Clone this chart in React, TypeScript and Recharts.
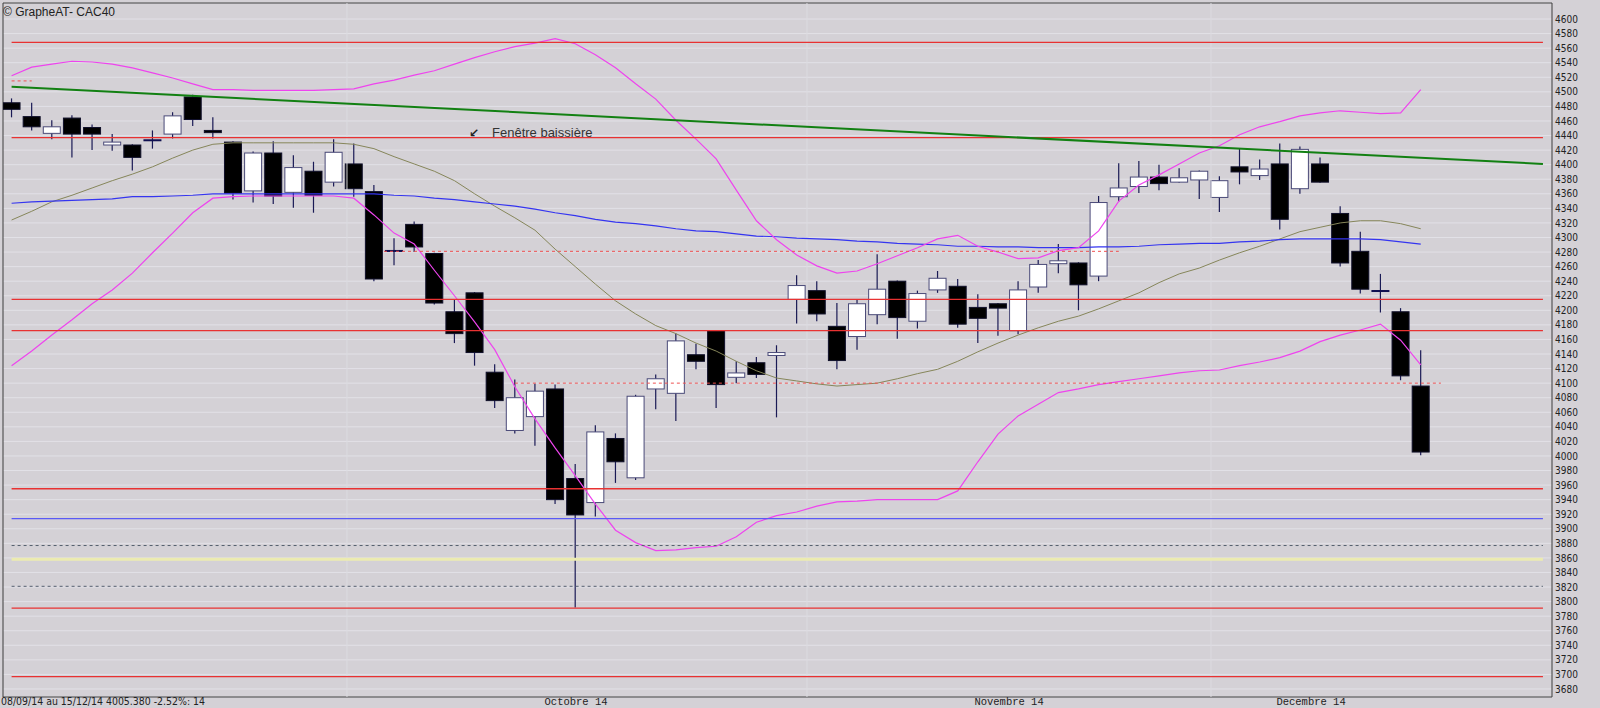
import React from 'react';
import {
  ComposedChart,
  Bar,
  Line,
  XAxis,
  YAxis,
  CartesianGrid,
  ReferenceLine,
  ReferenceArea,
} from 'recharts';

// ---- Candles (08/09/14 .. 15/12/14, CAC40) ----
const opens = [
  4485, 4466, 4443, 4464, 4451, 4427, 4427, 4433, 4442, 4493, 4447, 4431, 4364, 4416, 4362, 4391, 4376, 4401,
  4363, 4282, 4318, 4278, 4198, 4224, 4115, 4035, 4054, 4092, 3969, 3936, 4024, 3970, 4092, 4086, 4139, 4172,
  4108, 4128, 4138, 4215, 4227, 4178, 4164, 4194, 4240, 4185, 4228, 4233, 4204, 4209, 4172, 4232, 4264, 4265,
  4247, 4356, 4370, 4383, 4376, 4379, 4355, 4397, 4385, 4401, 4367, 4401, 4333, 4281, 4227, 4198, 4096,
];
const highs = [
  4491, 4485, 4461, 4468, 4455, 4442, 4428, 4447, 4472, 4496, 4465, 4432, 4418, 4432, 4413, 4404, 4435, 4429,
  4372, 4299, 4322, 4279, 4215, 4225, 4126, 4105, 4099, 4098, 3989, 4042, 4031, 4084, 4112, 4168, 4154, 4173,
  4130, 4136, 4152, 4248, 4240, 4210, 4215, 4277, 4241, 4227, 4254, 4243, 4222, 4210, 4240, 4269, 4291, 4266,
  4357, 4402, 4405, 4400, 4395, 4392, 4384, 4422, 4407, 4429, 4425, 4410, 4343, 4308, 4250, 4203, 4145,
];
const lows = [
  4465, 4447, 4435, 4410, 4420, 4419, 4392, 4422, 4436, 4453, 4436, 4352, 4348, 4346, 4341, 4334, 4370, 4356,
  4240, 4262, 4280, 4208, 4155, 4124, 4066, 4031, 4014, 3934, 3792, 3917, 3963, 3967, 4064, 4048, 4119, 4066,
  4100, 4107, 4053, 4182, 4185, 4119, 4146, 4181, 4161, 4175, 4224, 4176, 4155, 4165, 4167, 4224, 4251, 4200,
  4240, 4349, 4361, 4365, 4375, 4353, 4335, 4373, 4379, 4311, 4360, 4375, 4260, 4223, 4197, 4104, 4001,
];
const closes = [
  4476, 4452, 4452, 4442, 4442, 4431, 4410, 4434, 4467, 4462, 4444, 4361, 4416, 4357, 4396, 4358, 4417, 4367,
  4243, 4281, 4287, 4210, 4168, 4142, 4076, 4080, 4089, 3940, 3919, 4033, 3992, 4082, 4106, 4158, 4130, 4098,
  4114, 4112, 4142, 4234, 4195, 4131, 4209, 4229, 4190, 4223, 4244, 4181, 4189, 4203, 4228, 4263, 4268, 4235,
  4348, 4368, 4383, 4374, 4382, 4391, 4378, 4390, 4394, 4325, 4421, 4376, 4265, 4229, 4226, 4110, 4005.38,
];

// ---- Indicators ----
const bbUpper = [
  4522, 4534, 4538, 4542, 4541, 4538, 4533, 4526, 4519, 4511, 4503, 4503, 4502, 4502, 4502, 4502, 4503, 4504,
  4511, 4516, 4523, 4529, 4538, 4547, 4555, 4562, 4567, 4573, 4566, 4551, 4533, 4511, 4490, 4461, 4435, 4408,
  4365, 4323, 4297, 4276, 4261, 4251, 4254, 4264, 4275, 4286, 4298, 4303, 4288, 4280, 4271, 4272, 4282, 4286,
  4309, 4350, 4372, 4386, 4401, 4416, 4426, 4441, 4452, 4459, 4467, 4471, 4474, 4472, 4470, 4471, 4503,
];
const bbLower = [
  4124, 4144, 4166, 4187, 4209, 4228, 4251, 4279, 4306, 4334, 4354, 4356, 4357, 4357, 4357, 4357, 4357, 4354,
  4331, 4306, 4291, 4255, 4220, 4184, 4146, 4095, 4051, 4011, 3973, 3934, 3898, 3881, 3870, 3871, 3874, 3876,
  3889, 3909, 3918, 3923, 3931, 3937, 3938, 3940, 3940, 3940, 3940, 3952, 3992, 4030, 4055, 4071, 4087, 4092,
  4098, 4102, 4106, 4110, 4114, 4117, 4118, 4124, 4129, 4135, 4144, 4157, 4166, 4173, 4181, 4159, 4125,
];
const maMid = [
  4324, 4336, 4349, 4358, 4368, 4378, 4387, 4397, 4409, 4420, 4428, 4430, 4430, 4430, 4430, 4430, 4430, 4428,
  4422, 4411, 4401, 4391, 4378, 4360, 4343, 4327, 4310, 4284, 4260, 4236, 4213, 4195, 4179, 4168, 4155, 4144,
  4130, 4117, 4107, 4103, 4099, 4096, 4098, 4100, 4106, 4113, 4119, 4130, 4143, 4155, 4166, 4176, 4185, 4192,
  4202, 4213, 4224, 4238, 4250, 4258, 4269, 4279, 4288, 4298, 4308, 4314, 4320, 4323, 4323, 4319, 4312,
];
const maLong = [
  4347, 4349, 4350, 4351, 4352, 4353, 4356, 4356, 4357, 4358, 4360, 4360, 4360, 4360, 4360, 4360, 4360, 4360,
  4360, 4358, 4357, 4354, 4352, 4349, 4346, 4343, 4339, 4334, 4330, 4325, 4321, 4319, 4316, 4312, 4309, 4308,
  4305, 4302, 4301, 4299, 4298, 4297, 4295, 4294, 4292, 4291, 4290, 4288, 4288, 4287, 4287, 4286, 4286, 4286,
  4287, 4287, 4288, 4290, 4291, 4292, 4292, 4294, 4295, 4297, 4298, 4298, 4298, 4298, 4297, 4294, 4291,
];

// ---- Drawn levels (price) and their extent (bar index) ----
const redLevels = [4568, 4437, 4215, 4172, 3955, 3791, 3697];
const blueLevels = [3914];
const yellowLevels = [3858];
const grayDashedLevels = [3877, 3821];
const levelStart = 0;
const levelEnd = 76.07;
const dottedLevels = [4515, 4281, 4100];
const dottedStart = [0, 18.5, 25];
const dottedEnd = [1, 55, 71];
const trendStart = [0, 4507];
const trendEnd = [76.07, 4401];

// ---- Axes ----
const xDomain = [-0.427, 76.52];
const yDomain = [3669, 4622];
const monthSeparators = [16.66, 39.51, 59.58];
const monthLabels = ['Octobre 14', 'Novembre 14', 'Decembre 14'];
const monthLabelPos = [28.04, 49.55, 64.55];
const yTicks = [
  3680, 3700, 3720, 3740, 3760, 3780, 3800, 3820, 3840, 3860, 3880, 3900, 3920, 3940, 3960, 3980, 4000, 4020,
  4040, 4060, 4080, 4100, 4120, 4140, 4160, 4180, 4200, 4220, 4240, 4260, 4280, 4300, 4320, 4340, 4360, 4380,
  4400, 4420, 4440, 4460, 4480, 4500, 4520, 4540, 4560, 4580, 4600,
];

const data = opens.map((o, i) => ({
  i,
  open: o,
  high: highs[i],
  low: lows[i],
  close: closes[i],
  range: [lows[i], highs[i]],
  upper: bbUpper[i],
  lower: bbLower[i],
  mid: maMid[i],
  long: maLong[i],
}));

const BG = '#d4d1d6';

const Candle = (props: any) => {
  const { x, y, width, height, payload } = props;
  if (!payload) return null;
  const { open, close, high, low } = payload;
  const top0 = Math.min(y, y + height);
  const h = Math.abs(height);
  const cx = x + width / 2;
  const k = high > low ? h / (high - low) : 0;
  const yO = top0 + (high - open) * k;
  const yC = top0 + (high - close) * k;
  const bTop = Math.min(yO, yC);
  const bBot = Math.max(yO, yC);
  const bull = close >= open;
  const half = 9;
  const wick = '#1a1a55';
  const elems: any[] = [];
  elems.push(
    <line key="w" x1={cx} x2={cx} y1={top0} y2={top0 + h} stroke={wick} strokeWidth={1.2} />
  );
  if (bBot - bTop < 1.6) {
    elems.push(
      <rect key="d" x={cx - half} y={(bTop + bBot) / 2 - 1} width={half * 2} height={2} fill="#101050" />
    );
  } else {
    elems.push(
      <rect
        key="b"
        x={cx - half + 0.5}
        y={bTop}
        width={half * 2 - 1}
        height={bBot - bTop}
        fill={bull ? '#ffffff' : '#000000'}
        stroke={bull ? '#4a4a78' : '#10102a'}
        strokeWidth={1}
      />
    );
  }
  return <g>{elems}</g>;
};

const YTick = (props: any) => {
  const { y, payload } = props;
  return (
    <text
      x={1555}
      y={y}
      dy="0.36em"
      textAnchor="start"
      fontFamily="'DejaVu Sans Condensed','Liberation Sans Narrow','DejaVu Sans',sans-serif"
      fontSize={10}
      fill="#222222"
    >
      {payload.value}
    </text>
  );
};

const XTick = (props: any) => {
  const { x, payload, index } = props;
  const idx = monthLabelPos.indexOf(payload.value);
  const label = idx >= 0 ? monthLabels[idx] : monthLabels[index] ?? '';
  return (
    <text
      x={x}
      y={705}
      textAnchor="middle"
      fontFamily="'Liberation Mono','DejaVu Sans Mono',monospace"
      fontSize={10.5}
      fill="#222222"
    >
      {label}
    </text>
  );
};

export default function App() {
  return (
    <div
      style={{
        position: 'absolute',
        left: 0,
        top: 0,
        width: 1600,
        height: 708,
        background: BG,
        overflow: 'hidden',
      }}
    >
      <ComposedChart
        width={1600}
        height={708}
        data={data}
        margin={{ top: 3, right: 0, bottom: 0, left: 3 }}
      >
        <CartesianGrid vertical={false} stroke="#e2e1e7" strokeWidth={1} />
        <XAxis
          type="number"
          dataKey="i"
          domain={xDomain}
          allowDataOverflow
          ticks={monthLabelPos}
          interval={0}
          tick={<XTick />}
          axisLine={false}
          tickLine={false}
          height={11}
        />
        <YAxis
          orientation="right"
          type="number"
          domain={yDomain}
          allowDataOverflow
          ticks={yTicks}
          interval={0}
          tick={<YTick />}
          axisLine={false}
          tickLine={false}
          width={48}
        />
        {monthSeparators.map((m, k) => (
          <ReferenceLine key={'ms' + k} x={m} stroke="#dcdbe0" strokeWidth={1} />
        ))}
        {yellowLevels.map((v, k) => (
          <ReferenceLine
            key={'yl' + k}
            segment={[{ x: levelStart, y: v }, { x: levelEnd, y: v }]}
            stroke="#ecebb0"
            strokeWidth={3}
          />
        ))}
        <Bar dataKey="range" barSize={18} shape={<Candle />} isAnimationActive={false} />
        <Line type="linear" dataKey="mid" stroke="#86865a" strokeWidth={1} dot={false} isAnimationActive={false} />
        <Line type="linear" dataKey="long" stroke="#3535f0" strokeWidth={1.2} dot={false} isAnimationActive={false} />
        <Line type="linear" dataKey="upper" stroke="#ee44ee" strokeWidth={1.2} dot={false} isAnimationActive={false} />
        <Line type="linear" dataKey="lower" stroke="#ee44ee" strokeWidth={1.2} dot={false} isAnimationActive={false} />
        {redLevels.map((v, k) => (
          <ReferenceLine
            key={'rl' + k}
            segment={[{ x: levelStart, y: v }, { x: levelEnd, y: v }]}
            stroke="#e83232"
            strokeWidth={1.3}
          />
        ))}
        {blueLevels.map((v, k) => (
          <ReferenceLine
            key={'bl' + k}
            segment={[{ x: levelStart, y: v }, { x: levelEnd, y: v }]}
            stroke="#5a5af5"
            strokeWidth={1.3}
          />
        ))}
        {grayDashedLevels.map((v, k) => (
          <ReferenceLine
            key={'gl' + k}
            segment={[{ x: levelStart, y: v }, { x: levelEnd, y: v }]}
            stroke="#55606e"
            strokeWidth={1}
            strokeDasharray="3 3"
          />
        ))}
        {dottedLevels.map((v, k) => (
          <ReferenceLine
            key={'dl' + k}
            segment={[{ x: dottedStart[k], y: v }, { x: dottedEnd[k], y: v }]}
            stroke="#ee5050"
            strokeWidth={1}
            strokeDasharray="3 3"
          />
        ))}
        <ReferenceLine
          segment={[{ x: trendStart[0], y: trendStart[1] }, { x: trendEnd[0], y: trendEnd[1] }]}
          stroke="#128012"
          strokeWidth={2}
        />
        <ReferenceArea
          x1={xDomain[0]}
          x2={xDomain[1]}
          y1={yDomain[0]}
          y2={yDomain[1]}
          fill="none"
          fillOpacity={0}
          stroke="#3c3c3c"
          strokeWidth={1}
          ifOverflow="visible"
        />
      </ComposedChart>
      <svg
        width={1600}
        height={708}
        style={{ position: 'absolute', left: 0, top: 0, pointerEvents: 'none' }}
      >
        <text x={3} y={16} fontFamily="'Liberation Sans',Arial,sans-serif" fontSize={12} fill="#222222">
          © GrapheAT- CAC40
        </text>
        <text x={469} y={137} fontFamily="'DejaVu Sans',sans-serif" fontSize={12} fontWeight="bold" fill="#222222">
          ↙
        </text>
        <text x={492} y={136.5} fontFamily="'Liberation Sans',Arial,sans-serif" fontSize={13} fill="#333333">
          Fenêtre baissière
        </text>
        <text
          x={1}
          y={705}
          fontFamily="'DejaVu Sans Condensed','Liberation Sans Narrow',sans-serif"
          fontSize={10}
          fill="#222222"
          textLength={204}
          lengthAdjust="spacingAndGlyphs"
        >
          08/09/14 au 15/12/14 4005.380 -2.52%: 14
        </text>
      </svg>
    </div>
  );
}
